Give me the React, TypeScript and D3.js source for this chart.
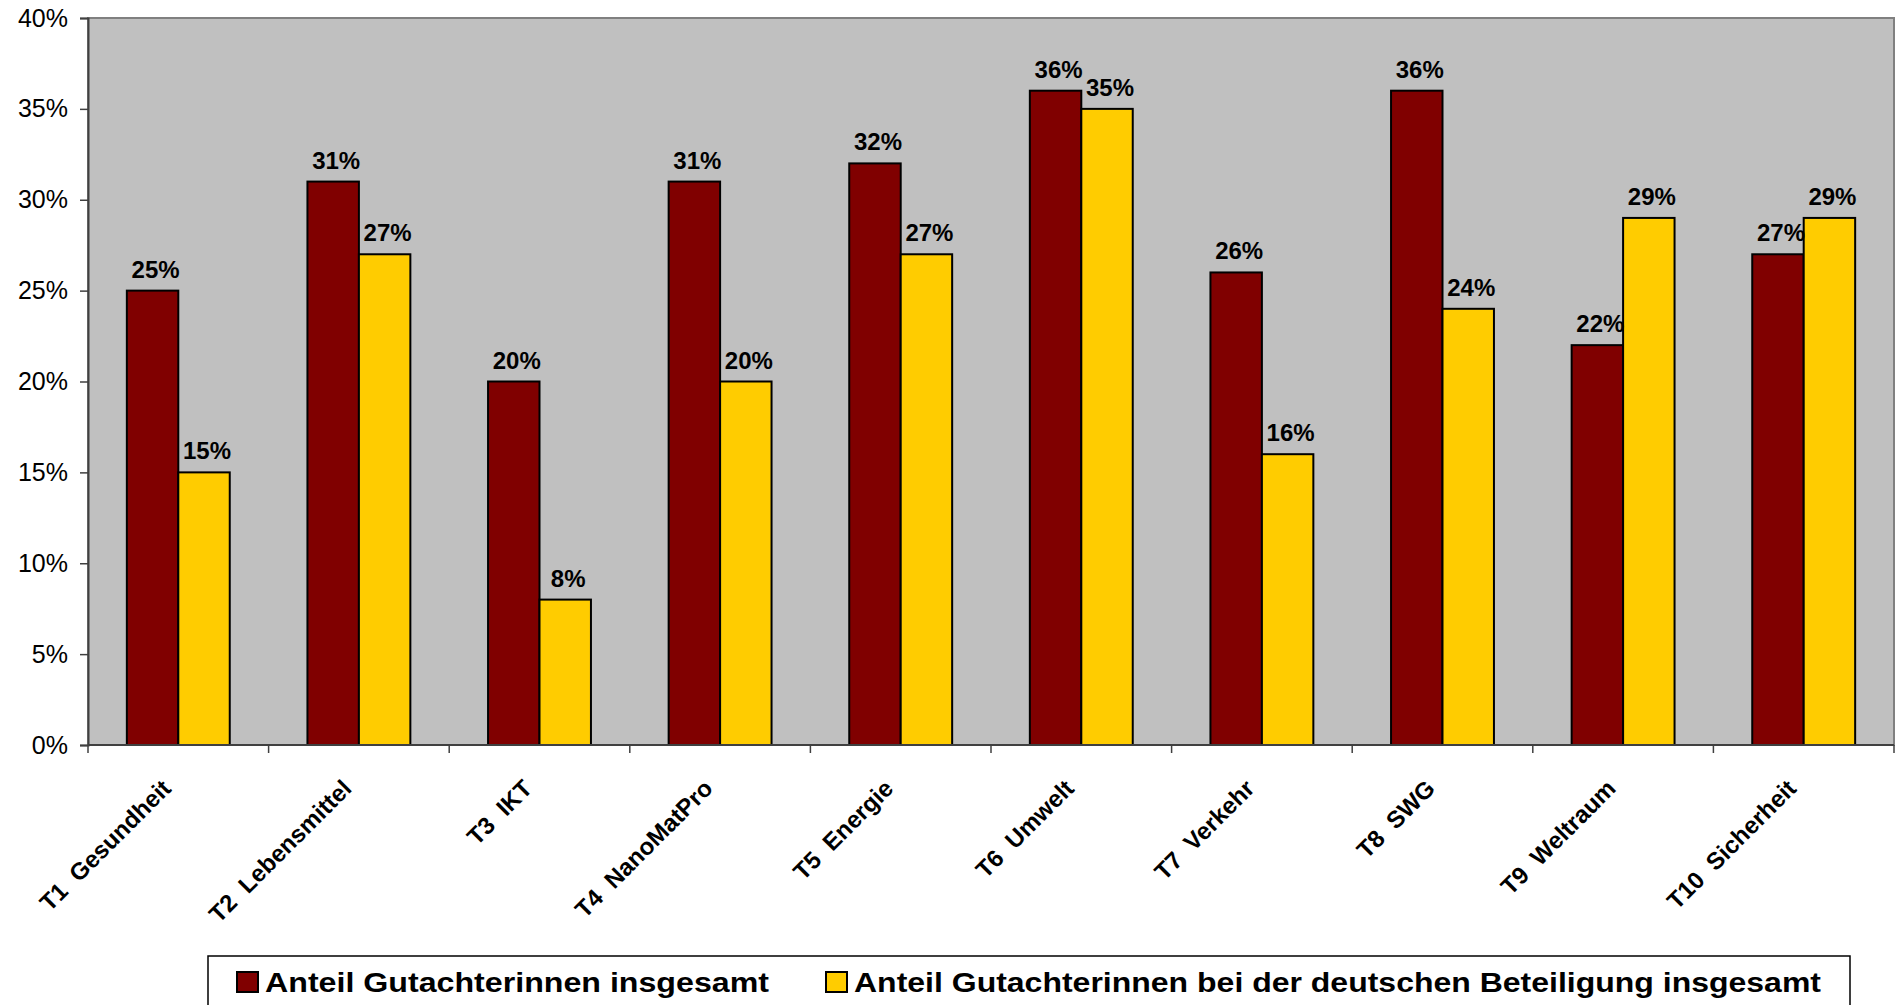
import React, { useEffect, useRef } from "react";
import * as d3 from "d3";

const categories = [
  "T1  Gesundheit",
  "T2  Lebensmittel",
  "T3  IKT",
  "T4  NanoMatPro",
  "T5  Energie",
  "T6  Umwelt",
  "T7  Verkehr",
  "T8  SWG",
  "T9  Weltraum",
  "T10  Sicherheit",
];
const anteilInsgesamt = [25, 31, 20, 31, 32, 36, 26, 36, 22, 27];
const anteilDeutsch = [15, 27, 8, 20, 27, 35, 16, 24, 29, 29];
const seriesNames = [
  "Anteil Gutachterinnen insgesamt",
  "Anteil Gutachterinnen bei der deutschen Beteiligung insgesamt",
];
const seriesColors = ["#800000", "#FFCC00"];
const yTicks = [0, 5, 10, 15, 20, 25, 30, 35, 40];

const App = () => {
  const ref = useRef<SVGSVGElement>(null);

  useEffect(() => {
    const svg = d3.select(ref.current);
    svg.selectAll("*").remove();

    const width = 1896;
    const height = 1005;
    const margin = { top: 18, right: 2, left: 88, bottom: 260 };
    const plotBottom = height - margin.bottom;
    const font = "Arial, 'Liberation Sans', sans-serif";

    const x = d3
      .scaleBand()
      .domain(categories)
      .range([margin.left, width - margin.right])
      .paddingInner(0)
      .paddingOuter(0);
    const x1 = d3
      .scaleBand()
      .domain(["0", "1"])
      .range([0, x.bandwidth()])
      .paddingOuter(0.755)
      .paddingInner(0);
    const y = d3.scaleLinear().domain([0, 40]).range([plotBottom, margin.top]);

    // plot background
    svg
      .append("rect")
      .attr("x", margin.left)
      .attr("y", margin.top)
      .attr("width", width - margin.right - margin.left)
      .attr("height", plotBottom - margin.top)
      .attr("fill", "#C0C0C0")
      .attr("stroke", "#808080")
      .attr("stroke-width", 2);

    const data = categories.map((c, i) => ({
      cat: c,
      vals: [anteilInsgesamt[i], anteilDeutsch[i]],
    }));

    const groups = svg
      .append("g")
      .selectAll("g")
      .data(data)
      .enter()
      .append("g")
      .attr("transform", (d) => `translate(${x(d.cat)},0)`);

    groups
      .selectAll("rect")
      .data((d) => d.vals.map((v, k) => ({ v, k })))
      .enter()
      .append("rect")
      .attr("x", (d) => x1(String(d.k))!)
      .attr("y", (d) => y(d.v))
      .attr("width", x1.bandwidth())
      .attr("height", (d) => plotBottom - y(d.v))
      .attr("fill", (d) => seriesColors[d.k])
      .attr("stroke", "#000")
      .attr("stroke-width", 2);

    groups
      .selectAll("text")
      .data((d) => d.vals.map((v, k) => ({ v, k })))
      .enter()
      .append("text")
      .attr("x", (d) => x1(String(d.k))! + x1.bandwidth() / 2 + 3)
      .attr("y", (d) => y(d.v) - 13)
      .attr("text-anchor", "middle")
      .style("font-family", font)
      .style("font-weight", "bold")
      .style("font-size", "24px")
      .text((d) => `${d.v}%`);

    // y axis
    const yAxis = svg
      .append("g")
      .attr("transform", `translate(${margin.left},0)`)
      .call(
        d3
          .axisLeft(y)
          .tickValues(yTicks)
          .tickSize(8)
          .tickPadding(12)
          .tickFormat((d) => `${d}%`)
      );
    yAxis.select(".domain").attr("stroke", "#404040").attr("stroke-width", 2);
    yAxis.selectAll(".tick line").attr("stroke", "#404040").attr("stroke-width", 1.5);
    yAxis
      .selectAll("text")
      .style("font-family", font)
      .style("font-size", "25px")
      .attr("fill", "#000");

    // x axis line and ticks
    const xg = svg.append("g");
    xg.append("line")
      .attr("x1", margin.left)
      .attr("x2", width - margin.right)
      .attr("y1", plotBottom)
      .attr("y2", plotBottom)
      .attr("stroke", "#404040")
      .attr("stroke-width", 2);
    xg.selectAll(".xtick")
      .data([...categories.map((c) => x(c)!), width - margin.right])
      .enter()
      .append("line")
      .attr("x1", (d) => d)
      .attr("x2", (d) => d)
      .attr("y1", plotBottom)
      .attr("y2", plotBottom + 8)
      .attr("stroke", "#404040")
      .attr("stroke-width", 1.5);

    xg.selectAll(".xlabel")
      .data(categories)
      .enter()
      .append("text")
      .attr(
        "transform",
        (c) => `translate(${x(c)! + x.bandwidth() / 2 - 6},${plotBottom + 45}) rotate(-45)`
      )
      .attr("text-anchor", "end")
      .attr("xml:space", "preserve")
      .style("font-family", font)
      .style("font-weight", "bold")
      .style("font-size", "24px")
      .style("white-space", "pre")
      .text((c) => c);

    // legend
    const lg = svg.append("g");
    lg.append("rect")
      .attr("x", 208)
      .attr("y", 956)
      .attr("width", 1850 - 208)
      .attr("height", 70)
      .attr("fill", "#fff")
      .attr("stroke", "#000")
      .attr("stroke-width", 1.5);
    const legendX = [237, 826];
    const legendTextWidth = [504, 967];
    seriesNames.forEach((name, i) => {
      lg.append("rect")
        .attr("x", legendX[i])
        .attr("y", 972)
        .attr("width", 21)
        .attr("height", 20)
        .attr("fill", seriesColors[i])
        .attr("stroke", "#000")
        .attr("stroke-width", 2);
      lg.append("text")
        .attr("x", legendX[i] + 28)
        .attr("y", 992)
        .attr("textLength", legendTextWidth[i])
        .attr("lengthAdjust", "spacingAndGlyphs")
        .style("font-family", font)
        .style("font-weight", "bold")
        .style("font-size", "27px")
        .text(name);
    });
  }, []);

  return (
    <svg
      ref={ref}
      width={1896}
      height={1005}
      style={{ position: "absolute", left: 0, top: 0, background: "#fff" }}
    />
  );
};

export default App;
